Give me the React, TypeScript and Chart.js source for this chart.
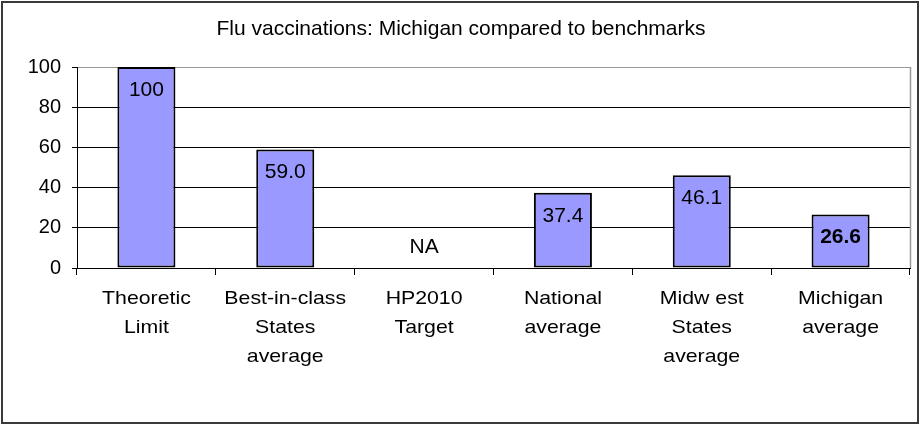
import React, { useEffect, useRef } from "react";
import { Chart, registerables } from "chart.js";

Chart.register(...registerables);

const chartTitle = "Flu vaccinations: Michigan compared to benchmarks";
const categories: string[][] = [
  ["Theoretic", "Limit"],
  ["Best-in-class", "States", "average"],
  ["HP2010", "Target"],
  ["National", "average"],
  ["Midw est", "States", "average"],
  ["Michigan", "average"],
];
const values: (number | null)[] = [100, 59.0, null, 37.4, 46.1, 26.6];
const valueLabels: string[] = ["100", "59.0", "NA", "37.4", "46.1", "26.6"];
const boldLabels: boolean[] = [false, false, false, false, false, true];
const yTicks: number[] = [0, 20, 40, 60, 80, 100];

const FONT = "'Liberation Sans', Arial, sans-serif";
const X_LABEL_STRETCH = 1.12;

const framePlugin = {
  id: "frame",
  beforeDraw(chart: any) {
    const ctx = chart.ctx;
    ctx.save();
    ctx.fillStyle = "#ffffff";
    ctx.fillRect(0, 0, chart.width, chart.height);
    ctx.restore();
  },
  afterDraw(chart: any) {
    const ctx = chart.ctx;
    const a = chart.chartArea;
    ctx.save();
    ctx.strokeStyle = "#999999";
    ctx.lineWidth = 1.5;
    ctx.beginPath();
    ctx.moveTo(Math.round(a.right) + 0.5, a.top);
    ctx.lineTo(Math.round(a.right) + 0.5, a.bottom);
    ctx.stroke();
    ctx.strokeStyle = "#3a3a3a";
    ctx.lineWidth = 2;
    ctx.strokeRect(2, 2, 916, 421);
    ctx.fillStyle = "#000";
    ctx.font = `21px ${FONT}`;
    ctx.textAlign = "center";
    ctx.textBaseline = "middle";
    ctx.fillText(chartTitle, 461, 29);
    ctx.restore();
  },
};

const labelPlugin = {
  id: "barLabels",
  afterDatasetsDraw(chart: any) {
    const ctx = chart.ctx;
    const meta = chart.getDatasetMeta(0);
    const yScale = chart.scales.y;
    const xScale = chart.scales.x;
    ctx.save();
    ctx.fillStyle = "#000";
    ctx.textAlign = "center";
    ctx.textBaseline = "middle";
    values.forEach((v, i) => {
      ctx.font = `${boldLabels[i] ? "bold " : ""}21px ${FONT}`;
      const x = xScale.getPixelForValue(i);
      if (v === null) {
        ctx.fillText(valueLabels[i], x, yScale.getPixelForValue(0) - 21);
      } else {
        const el = meta.data[i];
        ctx.fillText(valueLabels[i], x, el.y + 23);
      }
    });
    ctx.restore();
  },
};

function stretchLabels(scale: any) {
  if (scale.__stretched) return;
  scale.__stretched = true;
  scale.drawLabels = function (area: any) {
    const ctx = this.ctx;
    const items = this.getLabelItems(area);
    for (const item of items) {
      const o = item.options;
      ctx.save();
      ctx.translate(o.translation[0], o.translation[1]);
      ctx.scale(X_LABEL_STRETCH, 1);
      ctx.font = item.font.string;
      ctx.fillStyle = o.color;
      ctx.textAlign = o.textAlign;
      ctx.textBaseline = o.textBaseline;
      const lines = Array.isArray(item.label) ? item.label : [item.label];
      let y = item.textOffset;
      for (const line of lines) {
        ctx.fillText(String(line), 0, y);
        y += item.font.lineHeight;
      }
      ctx.restore();
    }
  };
}

export default function App() {
  const ref = useRef<HTMLCanvasElement | null>(null);

  useEffect(() => {
    document.body.style.margin = "0";
    if (!ref.current) return;
    const chart = new Chart(ref.current, {
      type: "bar",
      data: {
        labels: categories,
        datasets: [
          {
            data: values,
            backgroundColor: "#9999FF",
            borderColor: "#000000",
            borderWidth: 2,
            borderSkipped: false,
            barPercentage: 0.418,
            categoryPercentage: 1,
          },
        ],
      },
      options: {
        responsive: false,
        animation: false,
        devicePixelRatio: 1,
        layout: { padding: { top: 67, right: 10, left: 0, bottom: 0 } },
        plugins: {
          legend: { display: false },
          title: { display: false },
          tooltip: { enabled: false },
        },
        scales: {
          x: {
            offset: true,
            grid: {
              display: true,
              offset: true,
              drawOnChartArea: false,
              drawTicks: true,
              tickLength: 7,
              color: "#000",
              lineWidth: 1,
            },
            border: { display: true, color: "#000", width: 1 },
            ticks: {
              color: "#000",
              padding: 9,
              maxRotation: 0,
              autoSkip: false,
              font: { family: FONT, size: 19, lineHeight: 1.526 },
            },
            afterFit(scale: any) {
              scale.height = 157;
            },
            afterUpdate(scale: any) {
              stretchLabels(scale);
            },
          },
          y: {
            min: 0,
            max: 100,
            afterBuildTicks(scale: any) {
              scale.ticks = yTicks.map((v) => ({ value: v }));
            },
            grid: {
              color: (c: any) => (c.tick && c.tick.value === 100 ? "#999999" : "#000000"),
              tickColor: "#000",
              tickLength: 5,
              lineWidth: 1,
            },
            border: { display: true, color: "#000", width: 1 },
            ticks: {
              color: "#000",
              padding: 11,
              font: { family: FONT, size: 20 },
            },
            afterFit(scale: any) {
              scale.width = 77;
            },
          },
        },
      },
      plugins: [framePlugin, labelPlugin],
    });
    return () => chart.destroy();
  }, []);

  return (
    <div style={{ width: 920, height: 425 }}>
      <canvas ref={ref} width={920} height={425} style={{ display: "block" }} />
    </div>
  );
}
